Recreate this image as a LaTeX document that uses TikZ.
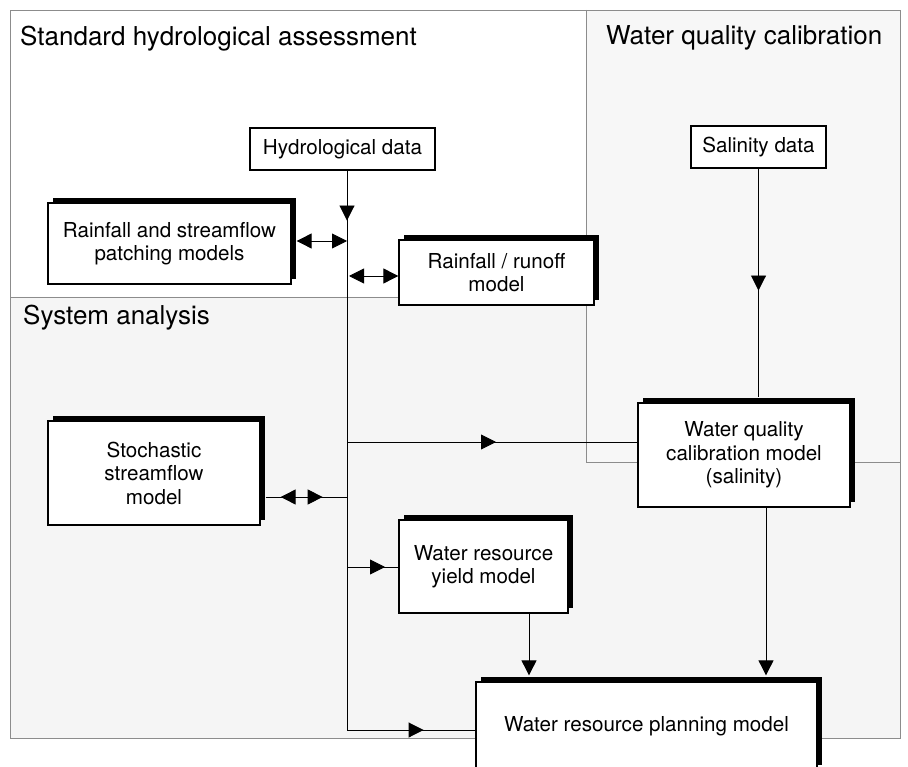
\documentclass[tikz,border=0pt]{standalone}
\usepackage{fontspec}
\setmainfont{TeX Gyre Heros}
\usetikzlibrary{arrows.meta,positioning,calc,shadows,decorations.markings}

\begin{document}
\begin{tikzpicture}[
  x=1pt, y=-1pt,
  font=\fontsize{20.6}{23.5}\selectfont, >={Triangle[length=15pt,width=15pt]},
  region/.style={draw=black!45, line width=0.8pt},
  head/.style={anchor=base west, font=\fontsize{26}{30}\selectfont, inner sep=0pt},
  data/.style={draw, fill=white, line width=1.1pt, align=center, inner sep=0pt},
  model/.style={data, line width=1.3pt, drop shadow={shadow xshift=5pt, shadow yshift=5pt, fill=black, opacity=1}},
  flow/.style={line width=0.9pt},
  tip/.style={postaction={decorate, decoration={markings, mark=at position #1 with {\arrow{>}}}}},
  backtip/.style={postaction={decorate, decoration={markings, mark=at position #1 with {\arrowreversed{>}}}}},
]
\useasboundingbox (0,0) rectangle (908,767);
\clip (0,0) rectangle (908,767);

% regions
\fill[black!3] (586,10) rectangle (900,462);
\fill[black!4] (10,297) -- (586,297) -- (586,462) -- (900,462) -- (900,738) -- (10,738) -- cycle;
\draw[region] (10,10) rectangle (900,738);
\draw[region] (10,297) -- (586,297);
\draw[region] (586,10) -- (586,462) -- (900,462);

\node[head] (stdhead) at (20,46) {Standard hydrological assessment};
\node[head] (wqhead) at (606,45) {Water quality calibration};
\node[head] (syshead) at (23,325) {System analysis};

% boxes
\node[data, minimum width=185pt, minimum height=42pt] (hyd) at (342.5,149) {Hydrological data};
\node[data, minimum width=135pt, minimum height=42pt] (sal) at (758.5,147) {Salinity data};
\node[model, minimum width=243pt, minimum height=81pt] (patch) at (169.5,243.5) {Rainfall and streamflow\\patching models};
\node[model, minimum width=195pt, minimum height=65pt] (runoff) at (496.5,272.5) {Rainfall / runoff\\model};
\node[model, minimum width=212pt, minimum height=104pt] (stoch) at (154,473) {Stochastic\\streamflow\\model};
\node[model, minimum width=212pt, minimum height=104pt] (wq) at (744,455) {Water quality\\calibration model\\(salinity)};
\node[model, minimum width=169pt, minimum height=93pt] (yield) at (483.5,566.5) {Water resource\\yield model};
\node[model, minimum width=341pt, minimum height=88pt] (plan) at (646.5,726) {Water resource planning model};

% connectors
\coordinate (tb) at (347,730);
\coordinate (jp) at (347,241);
\coordinate (jr) at (349,276);
\coordinate (jq) at (347,442);
\coordinate (js) at (347,497);
\coordinate (jy) at (347,567);

\draw[flow, tip=50pt, tip=636pt] (hyd.south -| tb) -- (tb) -- (tb -| plan.west);
\draw[flow, <->] ($(patch.east |- jp)+(5,0)$) -- (jp);
\draw[flow, <->] (jr) -- (jr -| runoff.west);
\draw[flow, tip=149pt] (jq) -- (jq -| wq.west);
\draw[flow, backtip=15pt, tip=57pt] ($(stoch.east |- js)+(5,0)$) -- (js);
\draw[flow, tip=38pt] (jy) -- (jy -| yield.west);
\draw[flow, tip=122pt] (sal.south) -- ($(sal.south |- wq.north)+(0,-5)$);
\draw[flow, ->] ($(yield.south)+(45.5,0)$) coordinate (ya) -- ($(ya |- plan.north)+(0,-6)$);
\draw[flow, ->] ($(wq.south)+(22,0)$) coordinate (qa) -- ($(qa |- plan.north)+(0,-6)$);
\end{tikzpicture}
\end{document}
